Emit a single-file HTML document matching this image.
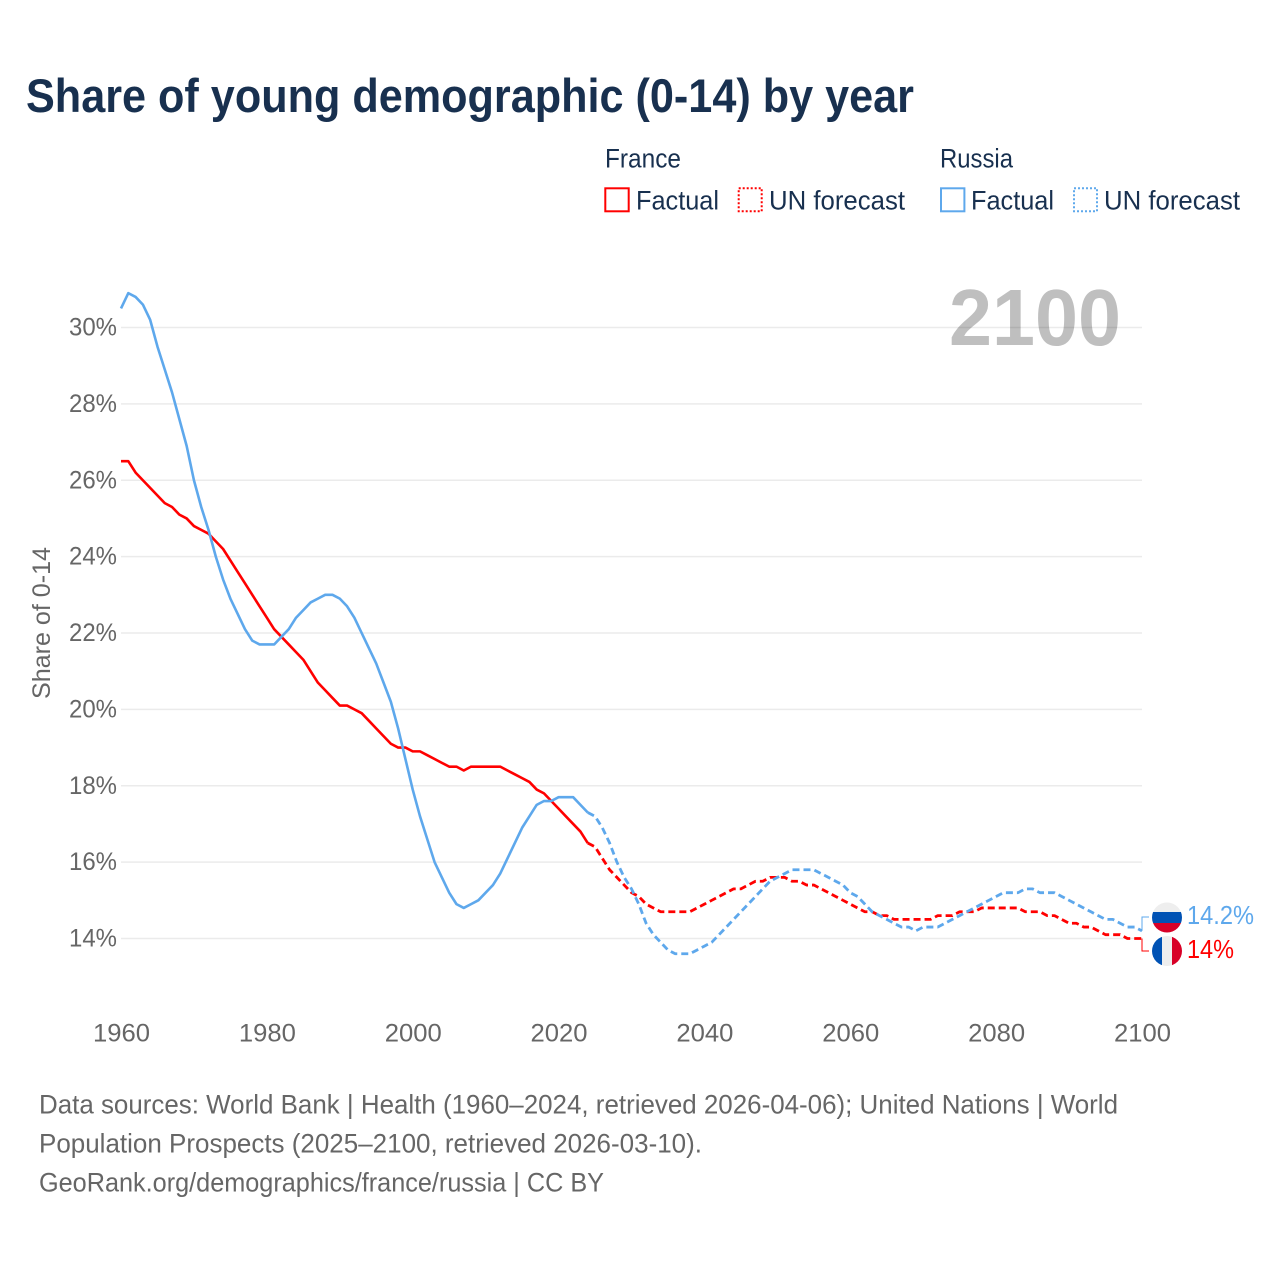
<!DOCTYPE html>
<html lang="en">
<head>
<meta charset="utf-8">
<title>Share of young demographic (0-14) by year</title>
<style>
html,body{margin:0;padding:0;background:#fff;width:1280px;height:1280px;overflow:hidden}
svg{display:block}
text{font-family:"Liberation Sans",sans-serif}
</style>
</head>
<body>
<svg id="chart" xmlns="http://www.w3.org/2000/svg" width="1280" height="1280" viewBox="0 0 1280 1280">
<rect width="1280" height="1280" fill="#fff"/>
<text x="26" y="112" font-size="47" font-weight="700" fill="#18304f" textLength="888" lengthAdjust="spacingAndGlyphs">Share of young demographic (0-14) by year</text>

<g font-size="27" fill="#18304f">
<text x="605" y="167.5" textLength="76" lengthAdjust="spacingAndGlyphs">France</text>
<text x="940" y="167.5" textLength="73" lengthAdjust="spacingAndGlyphs">Russia</text>
<g>
<rect x="605.3" y="188.3" width="23.4" height="23" fill="none" stroke="#ff0000" stroke-width="2"/>
<text x="636" y="209.5" textLength="83" lengthAdjust="spacingAndGlyphs">Factual</text>
</g>
<g>
<rect x="738.7" y="188.3" width="23" height="23" fill="none" stroke="#ff0000" stroke-width="2" stroke-dasharray="2,2"/>
<text x="769" y="209.5" textLength="136" lengthAdjust="spacingAndGlyphs">UN forecast</text>
</g>
<g>
<rect x="941" y="188.3" width="23.4" height="23" fill="none" stroke="#5ea8ec" stroke-width="2"/>
<text x="971" y="209.5" textLength="83" lengthAdjust="spacingAndGlyphs">Factual</text>
</g>
<g>
<rect x="1074" y="188.3" width="23" height="23" fill="none" stroke="#5ea8ec" stroke-width="2" stroke-dasharray="2,2"/>
<text x="1104" y="209.5" textLength="136" lengthAdjust="spacingAndGlyphs">UN forecast</text>
</g>
</g>

<g id="grid"></g>
<text x="949" y="345" font-size="80" font-weight="700" fill="#000" fill-opacity="0.25" textLength="172" lengthAdjust="spacingAndGlyphs">2100</text>
<g id="y-axis"></g>
<g id="x-axis"></g>
<text transform="translate(50,623) rotate(-90)" text-anchor="middle" font-size="25" fill="#666" textLength="152" lengthAdjust="spacingAndGlyphs">Share of 0-14</text>
<g id="series"></g>
<g id="ends"></g>

<defs>
<clipPath id="clip-ru"><circle cx="1167" cy="917.5" r="15"/></clipPath>
<clipPath id="clip-fr"><circle cx="1167" cy="951" r="15"/></clipPath>
</defs>
<g clip-path="url(#clip-ru)">
<rect x="1152" y="902" width="30" height="10" fill="#eeeeee"/>
<rect x="1152" y="912" width="30" height="11" fill="#0052b4"/>
<rect x="1152" y="923" width="30" height="10" fill="#d80027"/>
</g>
<g clip-path="url(#clip-fr)">
<rect x="1152" y="936" width="10" height="30" fill="#0052b4"/>
<rect x="1162" y="936" width="10" height="30" fill="#eeeeee"/>
<rect x="1172" y="936" width="10" height="30" fill="#d80027"/>
</g>

<g font-size="26.5" fill="#666">
<text x="39" y="1113.5" textLength="1079" lengthAdjust="spacingAndGlyphs">Data sources: World Bank | Health (1960–2024, retrieved 2026-04-06); United Nations | World</text>
<text x="39" y="1152.5" textLength="663" lengthAdjust="spacingAndGlyphs">Population Prospects (2025–2100, retrieved 2026-03-10).</text>
<text x="39" y="1191.5" textLength="565" lengthAdjust="spacingAndGlyphs">GeoRank.org/demographics/france/russia | CC BY</text>
</g>
</svg>

<script>
const yTicks = [14, 16, 18, 20, 22, 24, 26, 28, 30];
const xTicks = [1960, 1980, 2000, 2020, 2040, 2060, 2080, 2100];
const firstYear = 1960;
const lastFactualYear = 2024;
const franceValues = [
26.5,26.5,26.2,26.0,25.8,25.6,25.4,25.3,25.1,25.0,
24.8,24.7,24.6,24.4,24.2,23.9,23.6,23.3,23.0,22.7,
22.4,22.1,21.9,21.7,21.5,21.3,21.0,20.7,20.5,20.3,
20.1,20.1,20.0,19.9,19.7,19.5,19.3,19.1,19.0,19.0,
18.9,18.9,18.8,18.7,18.6,18.5,18.5,18.4,18.5,18.5,
18.5,18.5,18.5,18.4,18.3,18.2,18.1,17.9,17.8,17.6,
17.4,17.2,17.0,16.8,16.5,16.4,16.1,15.8,15.6,15.4,
15.2,15.1,14.9,14.8,14.7,14.7,14.7,14.7,14.7,14.8,
14.9,15.0,15.1,15.2,15.3,15.3,15.4,15.5,15.5,15.6,
15.6,15.6,15.5,15.5,15.4,15.4,15.3,15.2,15.1,15.0,
14.9,14.8,14.7,14.7,14.6,14.6,14.5,14.5,14.5,14.5,
14.5,14.5,14.6,14.6,14.6,14.7,14.7,14.7,14.8,14.8,
14.8,14.8,14.8,14.8,14.7,14.7,14.7,14.6,14.6,14.5,
14.4,14.4,14.3,14.3,14.2,14.1,14.1,14.1,14.0,14.0,
14.0];
const russiaValues = [
30.5,30.9,30.8,30.6,30.2,29.5,28.9,28.3,27.6,26.9,
26.0,25.3,24.7,24.0,23.4,22.9,22.5,22.1,21.8,21.7,
21.7,21.7,21.9,22.1,22.4,22.6,22.8,22.9,23.0,23.0,
22.9,22.7,22.4,22.0,21.6,21.2,20.7,20.2,19.5,18.7,
17.9,17.2,16.6,16.0,15.6,15.2,14.9,14.8,14.9,15.0,
15.2,15.4,15.7,16.1,16.5,16.9,17.2,17.5,17.6,17.6,
17.7,17.7,17.7,17.5,17.3,17.2,16.9,16.5,16.0,15.6,
15.3,14.9,14.4,14.1,13.9,13.7,13.6,13.6,13.6,13.7,
13.8,13.9,14.1,14.3,14.5,14.7,14.9,15.1,15.3,15.5,
15.6,15.7,15.8,15.8,15.8,15.8,15.7,15.6,15.5,15.4,
15.2,15.1,14.9,14.7,14.6,14.5,14.4,14.3,14.3,14.2,
14.3,14.3,14.3,14.4,14.5,14.6,14.7,14.8,14.9,15.0,
15.1,15.2,15.2,15.2,15.3,15.3,15.2,15.2,15.2,15.1,
15.0,14.9,14.8,14.7,14.6,14.5,14.5,14.4,14.3,14.3,
14.2];

const NS = 'http://www.w3.org/2000/svg';
const xScale = year => 121 + (year - 1960) * (1021 / 140);
const yScale = pct => 938.5 - (pct - 14) * (611 / 16);
const FR = '#ff0000';
const RU = '#5ea8ec';

function make(tag, parentId, attrs, text) {
  const el = document.createElementNS(NS, tag);
  for (const k in attrs) el.setAttribute(k, attrs[k]);
  if (text !== undefined) el.textContent = text;
  document.getElementById(parentId).appendChild(el);
  return el;
}

yTicks.forEach(v => {
  const line = make('line', 'grid', {x1: 121, x2: 1142, y1: yScale(v), y2: yScale(v), stroke: '#ebebeb', 'stroke-width': 1.5});
  
  
  const label = make('text', 'y-axis', {x: 117, y: yScale(v) + 8, 'text-anchor': 'end', 'font-size': 25, fill: '#666', textLength: 48, lengthAdjust: 'spacingAndGlyphs'}, v + '%');
  
  
});

xTicks.forEach(v => {
  const label = make('text', 'x-axis', {x: xScale(v) + 0.5, y: 1041.5, 'text-anchor': 'middle', 'font-size': 25, fill: '#666', textLength: 57, lengthAdjust: 'spacingAndGlyphs'}, String(v));
  
  
});

function pathFor(values, fromYear, toYear) {
  const pts = [];
  for (let y = fromYear; y <= toYear; y++) {
    pts.push(xScale(y).toFixed(2) + ',' + yScale(values[y - firstYear]).toFixed(2));
  }
  return 'M' + pts.join('L');
}

function drawSeries(values, color, key) {
  const endYear = firstYear + values.length - 1;
  const solid = make('path', 'series', {d: pathFor(values, firstYear, lastFactualYear), fill: 'none', stroke: color, 'stroke-width': 2.6, 'stroke-linejoin': 'round'});
  
  
  const dashed = make('path', 'series', {d: pathFor(values, lastFactualYear, endYear), fill: 'none', stroke: color, 'stroke-width': 2.8, 'stroke-dasharray': '7,4', 'stroke-linejoin': 'round'});
  
  
}

drawSeries(franceValues, FR, 'france');
drawSeries(russiaValues, RU, 'russia');

function drawEnd(values, color, key, labelY, textW) {
  const last = values[values.length - 1];
  const x = xScale(firstYear + values.length - 1);
  const connector = make('path', 'ends', {d: 'M' + x + ',' + yScale(last) + 'V' + labelY + 'H1149', fill: 'none', stroke: color, 'stroke-width': 1});
  
  
  const label = make('text', 'ends', {x: 1187, y: labelY + 7, 'font-size': 26, fill: color, textLength: textW, lengthAdjust: 'spacingAndGlyphs'}, last + '%');
  
  
}

drawEnd(russiaValues, RU, 'russia', 917, 67);
drawEnd(franceValues, FR, 'france', 951, 47);
</script>
</body>
</html>
